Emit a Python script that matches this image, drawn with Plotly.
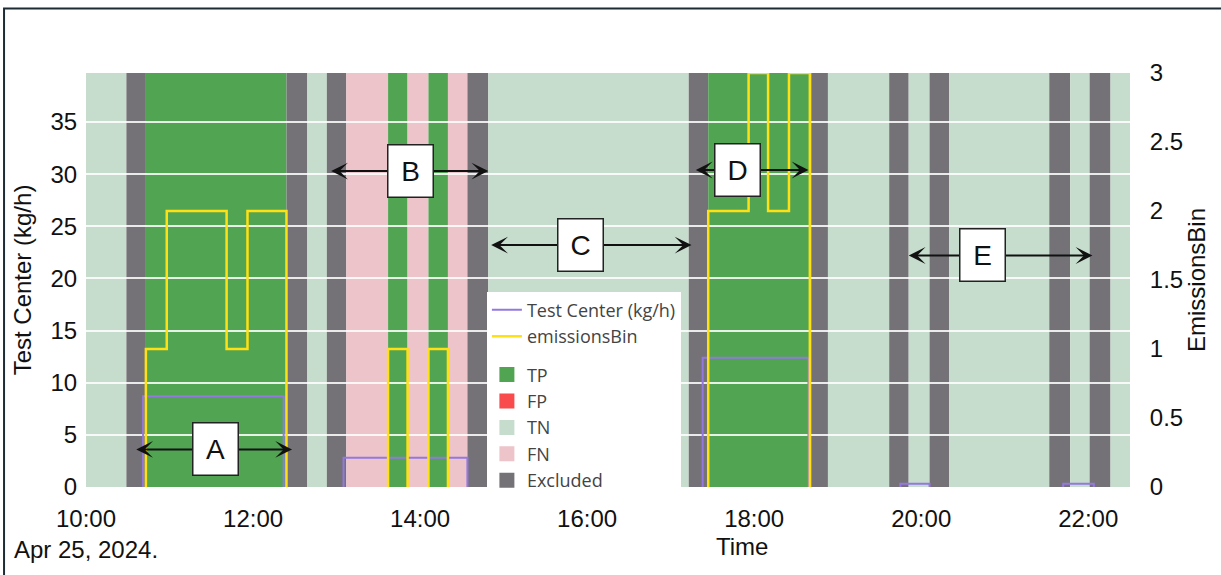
import plotly.graph_objects as go

DAY = "2024-04-25"

# ---- classification bands (start time, class); each band ends where the next starts
band_start = ["10:00", "10:29", "10:43", "12:24", "12:39", "12:53", "13:07", "13:37",
              "13:51", "14:06", "14:20", "14:34", "14:49", "17:13", "17:27", "18:41",
              "18:53", "19:37", "19:51", "20:06", "20:20", "21:32", "21:47", "22:01",
              "22:16"]
band_class = ["TN", "Excluded", "TP", "Excluded", "TN", "Excluded", "FN", "TP",
              "FN", "TP", "FN", "Excluded", "TN", "Excluded", "TP", "Excluded",
              "TN", "Excluded", "TN", "Excluded", "TN", "Excluded", "TN", "Excluded",
              "TN"]
band_end = band_start[1:] + ["22:30"]

classes = ["TP", "FP", "TN", "FN", "Excluded"]
class_colors = {"TP": "#51a552", "FP": "#f94b4b", "TN": "#c6dccc",
                "FN": "#ecc4ca", "Excluded": "#747277"}

# ---- Test Center (kg/h), step series
tc_time = ["10:00", "10:41", "12:22", "13:05", "14:34", "17:23", "18:39",
           "19:45", "20:06", "21:42", "22:04", "22:30"]
tc_value = [0, 8.7, 0, 2.8, 0, 12.4, 0, 0.3, 0, 0.3, 0, 0]

# ---- emissionsBin, step series
eb_time = ["10:00", "10:43", "10:58", "11:41", "11:56", "12:24", "13:37", "13:51",
           "14:06", "14:20", "17:27", "17:56", "18:10", "18:25", "18:40", "22:30"]
eb_value = [0, 1, 2, 1, 2, 0, 1, 0, 1, 0, 2, 3, 2, 3, 0, 0]

# ---- x tick labels
tick_times = ["10:00", "12:00", "14:00", "16:00", "18:00", "20:00", "22:00"]
tick_labels = ["10:00<br>Apr 25, 2024.", "12:00", "14:00", "16:00", "18:00",
               "20:00", "22:00"]

# ---- section markers: label, arrow start, arrow end, level (kg/h), box centre time
sections = [("A", "10:35", "12:28", 3.6, "11:33"),
            ("B", "12:55", "14:49", 30.3, "13:53"),
            ("C", "14:50", "17:15", 23.2, "15:55"),
            ("D", "17:17", "18:39", 30.4, "17:48"),
            ("E", "19:50", "22:03", 22.2, "20:44")]


def t(hm):
    return f"{DAY} {hm}:00"


def step_path(times, values):
    """Step outline of the non-zero runs (zero runs left as gaps)."""
    xs, ys = [], []
    n = len(values)
    for i in range(n - 1):
        v = values[i]
        if v == 0:
            continue
        prev = values[i - 1] if i > 0 else 0
        if prev == 0:
            xs += [t(times[i]), t(times[i])]
            ys += [0, v]
        else:
            xs.append(t(times[i]))
            ys.append(v)
        xs.append(t(times[i + 1]))
        ys.append(v)
        if values[i + 1] == 0:
            xs += [t(times[i + 1]), None]
            ys += [0, None]
    return xs, ys


fig = go.Figure()

for s, e, c in zip(band_start, band_end, band_class):
    fig.add_shape(type="rect", xref="x", yref="y domain", x0=t(s), x1=t(e),
                  y0=0, y1=1, fillcolor=class_colors[c], line_width=0,
                  layer="below")

tx, ty = step_path(tc_time, tc_value)
ex, ey = step_path(eb_time, eb_value)
fig.add_trace(go.Scatter(x=tx, y=ty, mode="lines", connectgaps=False,
                         line=dict(color="#9478e0", width=2),
                         name="Test Center (kg/h)", legendgroup="lines"))
fig.add_trace(go.Scatter(x=ex, y=ey, mode="lines", connectgaps=False,
                         line=dict(color="#ffe014", width=2.5),
                         name="emissionsBin", yaxis="y2", legendgroup="lines"))

for c in classes:
    fig.add_trace(go.Scatter(x=[None], y=[None], mode="markers",
                             marker=dict(symbol="square", size=15,
                                         color=class_colors[c]),
                             name=c, legendgroup="classes"))

for lab, a0, a1, lvl, xb in sections:
    fig.add_annotation(x=t(a1), y=lvl, ax=t(a0), ay=lvl, xref="x", yref="y",
                       axref="x", ayref="y", text="", showarrow=True,
                       arrowhead=3, startarrowhead=3, arrowside="end+start",
                       arrowsize=1.4, startarrowsize=1.4, arrowwidth=2,
                       arrowcolor="#111", standoff=0, startstandoff=0)
    fig.add_annotation(x=t(xb), y=lvl, xref="x", yref="y", text=lab,
                       showarrow=False, bgcolor="white", bordercolor="#222",
                       borderwidth=1.5, borderpad=0, width=44, height=51,
                       font=dict(size=28, color="#111",
                                 family="Liberation Sans, Arial, sans-serif"))

fig.add_annotation(text="Time", xref="paper", yref="paper", x=0.628, y=-0.144,
                   showarrow=False, xanchor="center", yanchor="middle",
                   font=dict(size=24, color="#111",
                             family="Liberation Sans, Arial, sans-serif"))

# outer frame
fig.add_shape(type="rect", xref="paper", yref="paper", x0=-0.0785, x1=1.1,
              y0=-0.25, y1=1.1559, line=dict(color="#1d2b35", width=2),
              fillcolor="rgba(0,0,0,0)", layer="above")

axfont = dict(size=24, color="#111", family="Liberation Sans, Arial, sans-serif")

fig.update_layout(
    width=1221, height=575,
    margin=dict(l=86, r=91, t=73, b=85),
    paper_bgcolor="white", plot_bgcolor="white",
    font=dict(family="Open Sans, verdana, arial, sans-serif", color="#444"),
    xaxis=dict(type="date", range=[f"{DAY} 09:59:59", t("22:30")],
               tickvals=[t(v) for v in tick_times], ticktext=tick_labels,
               tickfont=axfont, showgrid=False, zeroline=False,
               ticks="outside", ticklen=10, tickcolor="rgba(0,0,0,0)"),
    yaxis=dict(range=[0, 39.7], dtick=5, tickfont=axfont, showgrid=True,
               gridcolor="rgba(255,255,255,0.85)", gridwidth=1.5,
               zeroline=False, ticks="outside", ticklen=3,
               tickcolor="rgba(0,0,0,0)",
               title=dict(text="Test Center (kg/h)", font=axfont, standoff=12)),
    yaxis2=dict(range=[0, 3], dtick=0.5, overlaying="y", side="right",
                tickfont=axfont, showgrid=False, zeroline=False,
                ticks="outside", ticklen=14, tickcolor="rgba(0,0,0,0)",
                title=dict(text="EmissionsBin", font=axfont, standoff=4)),
    legend=dict(x=0.384, y=0.472, xanchor="left", yanchor="top",
                bgcolor="white", font=dict(size=18, color="#444"),
                tracegroupgap=12, traceorder="grouped"),
    showlegend=True,
)

fig.write_html("out.html",
               config={"displayModeBar": False},
               post_script="document.body.style.margin='0';")
